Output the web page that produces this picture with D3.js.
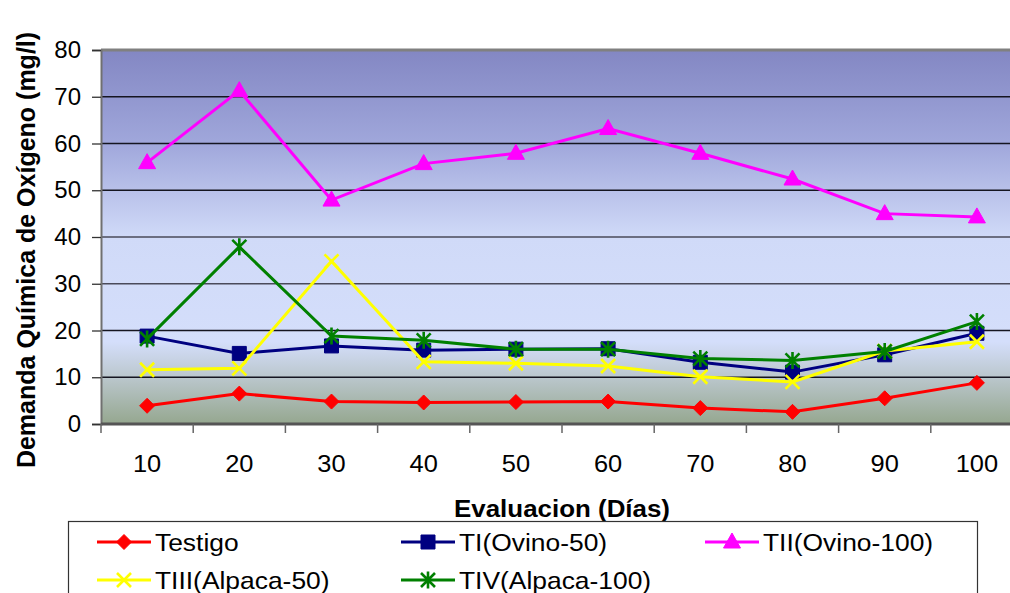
<!DOCTYPE html>
<html><head><meta charset="utf-8">
<script src="https://cdn.jsdelivr.net/npm/d3@7"></script>
<style>body{margin:0;background:#fff}svg{display:block;font-family:Arial,"Liberation Sans",sans-serif}</style>
</head><body><svg id="c" width="1010" height="593"></svg>
<script>
const categories = ["10","20","30","40","50","60","70","80","90","100"];
const testigo = [3.9, 6.5, 4.8, 4.6, 4.7, 4.8, 3.4, 2.6, 5.5, 8.8];
const tiOvino50 = [18.8, 15.1, 16.7, 15.8, 16.0, 16.1, 13.2, 11.1, 14.8, 19.4];
const tiiOvino100 = [55.9, 71.3, 47.9, 55.7, 57.9, 63.2, 57.9, 52.4, 45.0, 44.3];
const tiiiAlpaca50 = [11.6, 11.9, 34.8, 13.3, 13.0, 12.4, 10.1, 9.0, 15.6, 17.6];
const tivAlpaca100 = [18.2, 37.9, 18.8, 17.9, 16.0, 16.0, 14.0, 13.6, 15.5, 21.9];
const yTicks = [0, 10, 20, 30, 40, 50, 60, 70, 80];
const seriesNames = ["Testigo", "TI(Ovino-50)", "TII(Ovino-100)", "TIII(Alpaca-50)", "TIV(Alpaca-100)"];

const svg = d3.select("#c");
const L = 101, R = 1023, T = 50, B = 424;
const x = d3.scaleBand().domain(categories).range([L, R]);
const y = d3.scaleLinear().domain([0, 80]).range([B, T]);

// custom markers
const mk = {
  diamond: {draw(c){const r=7.5;c.moveTo(0,-r);c.lineTo(r,0);c.lineTo(0,r);c.lineTo(-r,0);c.closePath();}},
  square: {draw(c){const r=7;c.rect(-r,-r,2*r,2*r);}},
  triangle: {draw(c){c.moveTo(0,-9);c.lineTo(8.5,6);c.lineTo(-8.5,6);c.closePath();}},
  times: {draw(c){const r=7;c.moveTo(-r,-r);c.lineTo(r,r);c.moveTo(-r,r);c.lineTo(r,-r);}},
  star: {draw(c){const r=7;c.moveTo(-r,-r);c.lineTo(r,r);c.moveTo(-r,r);c.lineTo(r,-r);c.moveTo(0,-r-1.5);c.lineTo(0,r+1.5);}}
};

const series = [
  {name: seriesNames[0], values: testigo, color: "#ff0000", m: "diamond", fill: true},
  {name: seriesNames[1], values: tiOvino50, color: "#000080", m: "square", fill: true},
  {name: seriesNames[2], values: tiiOvino100, color: "#ff00ff", m: "triangle", fill: true},
  {name: seriesNames[3], values: tiiiAlpaca50, color: "#ffff00", m: "times", fill: false},
  {name: seriesNames[4], values: tivAlpaca100, color: "#008000", m: "star", fill: false}
];

// background gradient
const defs = svg.append("defs");
const g = defs.append("linearGradient").attr("id","bg").attr("x1",0).attr("y1",0).attr("x2",0).attr("y2",1);
[[0,"#8387c3"],[0.25,"#a0a7db"],[0.5,"#d0daf8"],[0.78,"#d4defb"],[0.87,"#bcc8cf"],[1,"#95a78f"]]
  .forEach(s=>g.append("stop").attr("offset",s[0]).attr("stop-color",s[1]));

svg.append("rect").attr("x",L).attr("y",T).attr("width",R-L).attr("height",B-T).attr("fill","url(#bg)");

// grid lines
svg.append("g").selectAll("line").data(yTicks.filter(d=>d>0 && d<80)).join("line")
  .attr("x1",L).attr("x2",R).attr("y1",d=>y(d)).attr("y2",d=>y(d))
  .attr("stroke",d=>(d===30||d===40)?"#4a4a5a":"#151520").attr("stroke-width",1.3);

// top border
svg.append("line").attr("x1",L).attr("x2",R).attr("y1",T).attr("y2",T).attr("stroke","#808080").attr("stroke-width",3);

// y axis
const yAxis = svg.append("g").attr("transform",`translate(${L},0)`)
  .call(d3.axisLeft(y).tickValues(yTicks).tickSize(9).tickPadding(11));
yAxis.select(".domain").attr("stroke","#707070").attr("stroke-width",2);
yAxis.selectAll(".tick line").attr("stroke","#333").attr("stroke-width",1.3);
yAxis.selectAll(".tick text").attr("font-size",24).attr("fill","#000").attr("font-family","Arial, 'Liberation Sans', sans-serif");

// x axis
svg.append("line").attr("x1",L).attr("x2",R).attr("y1",B).attr("y2",B).attr("stroke","#555").attr("stroke-width",3);
const bounds = categories.map(c=>x(c)).concat([x(categories[categories.length-1])+x.bandwidth()]);
svg.append("g").selectAll("line").data(bounds).join("line")
  .attr("x1",d=>d).attr("x2",d=>d).attr("y1",B).attr("y2",B+9).attr("stroke","#666").attr("stroke-width",1.5);
svg.append("g").selectAll("text").data(categories).join("text")
  .attr("transform",d=>`translate(${x(d)+x.bandwidth()/2},472) scale(1.06,1)`)
  .attr("text-anchor","middle").attr("font-size",24).text(d=>d);

// lines and markers
const line = d3.line().x((d,i)=>x(categories[i])+x.bandwidth()/2).y(d=>y(d));
series.forEach(s=>{
  svg.append("path").datum(s.values).attr("d",line).attr("fill","none").attr("stroke",s.color).attr("stroke-width",3);
  svg.append("g").selectAll("path").data(s.values).join("path")
    .attr("transform",(d,i)=>`translate(${x(categories[i])+x.bandwidth()/2},${y(d)})`)
    .attr("d",d3.symbol().type(mk[s.m]))
    .attr("fill",s.fill?s.color:"none").attr("stroke",s.color).attr("stroke-width",s.fill?1:2.6);
});

// axis titles
svg.append("text").attr("transform","translate(35,250) rotate(-90)")
  .attr("text-anchor","middle").attr("font-size",25).attr("font-weight","bold").text("Demanda Química de Oxígeno (mg/l)");
svg.append("text").attr("transform","translate(562,517) scale(1.08,1)")
  .attr("text-anchor","middle").attr("font-size",24).attr("font-weight","bold").text("Evaluacion (Días)");

// legend
svg.append("rect").attr("x",68.5).attr("y",521.5).attr("width",909).attr("height",90).attr("fill","#fff").attr("stroke","#333").attr("stroke-width",1.2);
const legPos = [[97,542],[401,542],[705,542],[97,580],[401,580]];
series.forEach((s,i)=>{
  const [lx,ly] = legPos[i];
  const lg = svg.append("g");
  lg.append("line").attr("x1",lx).attr("x2",lx+54).attr("y1",ly).attr("y2",ly).attr("stroke",s.color).attr("stroke-width",3);
  lg.append("path").attr("transform",`translate(${lx+27},${ly})`).attr("d",d3.symbol().type(mk[s.m]))
    .attr("fill",s.fill?s.color:"none").attr("stroke",s.color).attr("stroke-width",s.fill?1:2.6);
  lg.append("text").attr("transform",`translate(${lx+58},${ly+8.5}) scale(1.1,1)`).attr("font-size",24).text(s.name);
});
</script></body></html>
